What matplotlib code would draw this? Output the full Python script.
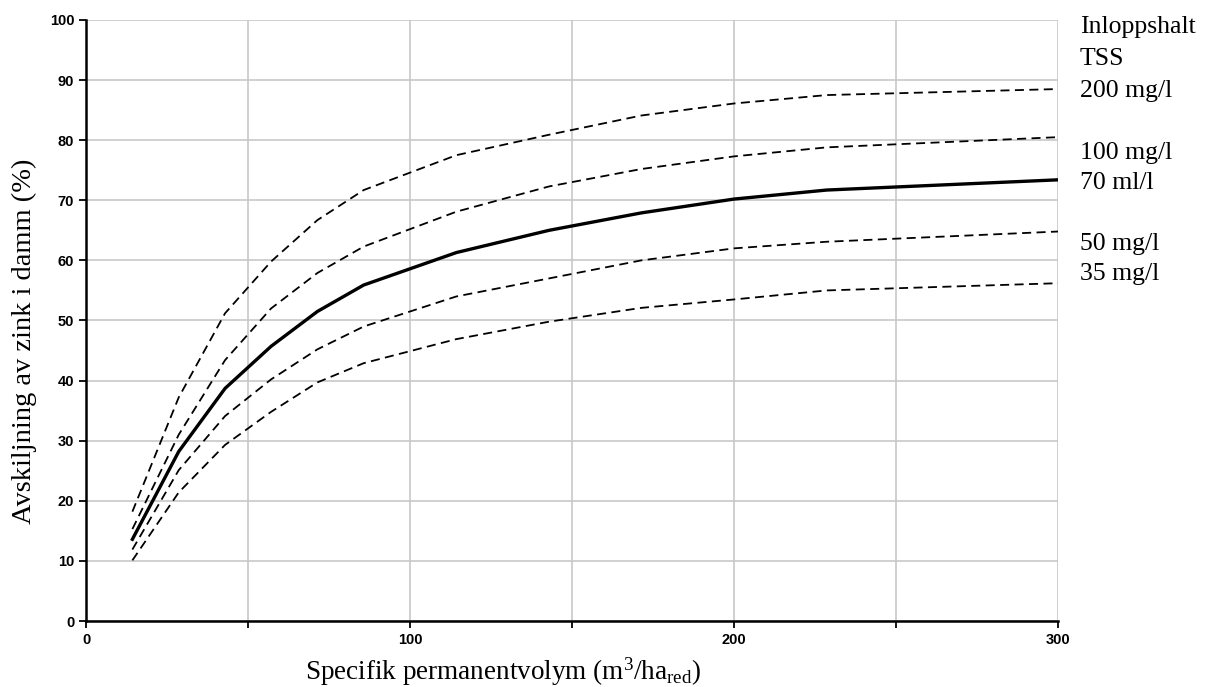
import matplotlib.pyplot as plt
from matplotlib.ticker import MultipleLocator

plt.rcParams['mathtext.fontset'] = 'custom'
plt.rcParams['mathtext.rm'] = 'Liberation Serif'
plt.rcParams['mathtext.it'] = 'Liberation Serif:italic'

# specific permanent volume (m3/ha_red)
volym = [14.3, 28.6, 42.9, 57.1, 71.4, 85.7, 114.3, 142.9, 171.4, 200, 228.6, 300]

# zinc removal (%) for inflow TSS concentrations
tss_200 = [18.2, 37.2, 51.2, 59.8, 66.7, 71.7, 77.5, 80.9, 84.1, 86.1, 87.5, 88.5]
tss_100 = [15.3, 31.0, 43.4, 52.0, 57.9, 62.3, 68.1, 72.3, 75.2, 77.3, 78.8, 80.5]
tss_70 = [13.6, 28.2, 38.7, 45.7, 51.5, 55.9, 61.3, 65.0, 67.9, 70.2, 71.7, 73.4]
tss_50 = [11.9, 25.1, 34.1, 40.2, 45.2, 49.0, 54.0, 57.0, 60.0, 62.0, 63.1, 64.8]
tss_35 = [10.1, 21.4, 29.3, 34.8, 39.7, 42.9, 46.9, 49.8, 52.1, 53.5, 55.0, 56.2]

labels = ['Inloppshalt', 'TSS', '200 mg/l', '100 mg/l', '70 ml/l', '50 mg/l', '35 mg/l']
label_y = [98.8, 93.5, 88.2, 77.9, 72.9, 62.7, 57.8]

fig = plt.figure(figsize=(12.12, 6.87), dpi=100)
ax = fig.add_axes([0.071, 0.096, 0.802, 0.875])

dash = dict(color='black', lw=1.3, dashes=(5, 3))
ax.plot(volym, tss_200, **dash)
ax.plot(volym, tss_100, **dash)
ax.plot(volym, tss_50, **dash)
ax.plot(volym, tss_35, **dash)
ax.plot(volym, tss_70, color='black', lw=2.4)

ax.set_xlim(0, 300)
ax.set_ylim(0, 100)
ax.xaxis.set_major_locator(MultipleLocator(100))
ax.xaxis.set_minor_locator(MultipleLocator(50))
ax.yaxis.set_major_locator(MultipleLocator(10))
ax.grid(which='both', color='#c8c8c8', lw=1.2)
ax.set_axisbelow(True)

for s in ['top', 'right']:
    ax.spines[s].set_visible(False)
for s in ['left', 'bottom']:
    ax.spines[s].set_linewidth(1.8)

ax.tick_params(which='both', direction='out', length=5, width=1.3, colors='black')
ax.tick_params(axis='y', which='minor', length=0)
for t in ax.get_xticklabels() + ax.get_yticklabels():
    t.set_fontfamily('Liberation Sans')
    t.set_fontweight('bold')
    t.set_fontsize(10.5)

ax.set_xlabel('Specifik permanentvolym (m$^3$/ha$_{\\mathrm{red}}$)',
              fontfamily='Liberation Serif', fontsize=19.5)
ax.xaxis.set_label_coords(0.429, -0.057)
ax.set_ylabel('Avskiljning av zink i damm (%)',
              fontfamily='Liberation Serif', fontsize=20.5)
ax.yaxis.set_label_coords(-0.05, 0.466)

for lab, y in zip(labels, label_y):
    ax.text(1.0226, y / 100, lab, transform=ax.transAxes, fontfamily='Liberation Serif',
            fontsize=18.5, va='center', ha='left')

plt.savefig('out.png', dpi=100)
